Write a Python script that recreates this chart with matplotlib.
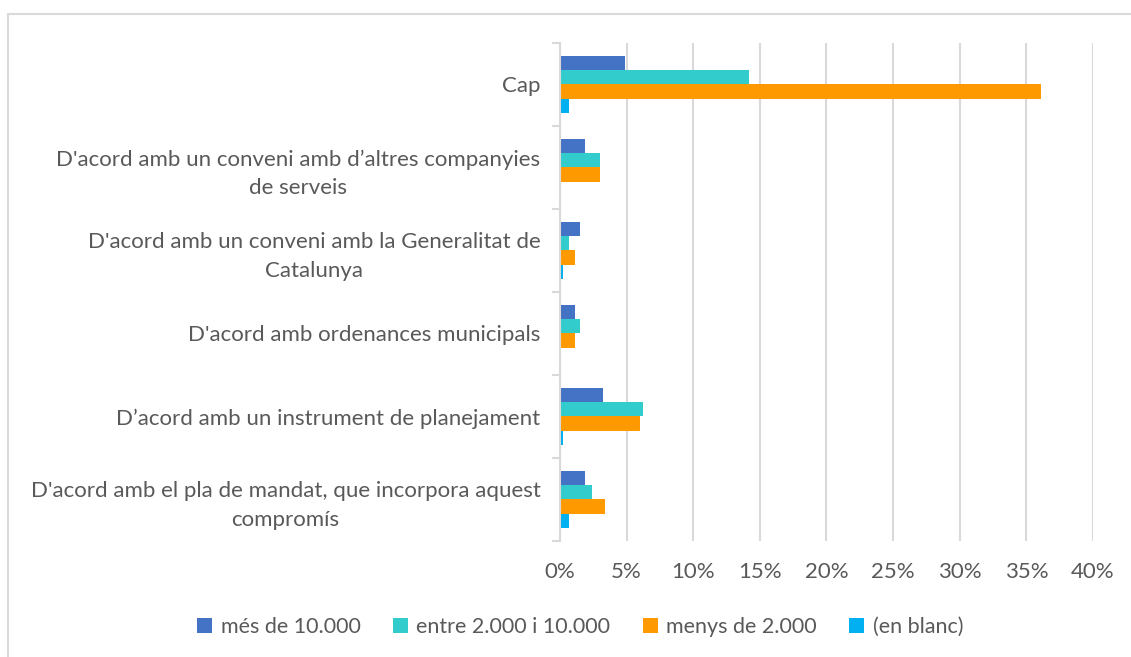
import numpy as np
import matplotlib.pyplot as plt
from matplotlib.patches import Rectangle

# categories top to bottom
categories = [
    'Cap',
    "D'acord amb un conveni amb d\u2019altres companyies\nde serveis",
    "D'acord amb un conveni amb la Generalitat de\nCatalunya",
    "D'acord amb ordenances municipals",
    "D\u2019acord amb un instrument de planejament",
    "D'acord amb el pla de mandat, que incorpora aquest\ncompromís",
]
series_names = ['més de 10.000', 'entre 2.000 i 10.000', 'menys de 2.000', '(en blanc)']
mes_10000 = [4.9, 1.9, 1.5, 1.1, 3.2, 1.9]
entre_2000_10000 = [14.2, 3.0, 0.66, 1.5, 6.2, 2.4]
menys_2000 = [36.1, 3.0, 1.1, 1.1, 6.0, 3.4]
en_blanc = [0.66, 0.0, 0.22, 0.0, 0.22, 0.66]
colors = ['#4472C4', '#33CCCC', '#FF9900', '#00B0F0']

plt.rcParams['font.family'] = ['Lato', 'DejaVu Sans']
txt = '#595959'
grid = '#d9d9d9'
fs = 16

fig = plt.figure(figsize=(11.31, 6.57), dpi=100)
ax = fig.add_axes([0.4951, 0.1766, 0.4713, 0.758])

# outer chart border
fig.patches.append(Rectangle((8 / 1131, -0.1), 1.2, (657 - 14) / 657 + 0.1,
                             transform=fig.transFigure, fill=False,
                             edgecolor=grid, linewidth=1.5))

n = len(categories)
y = np.arange(n)[::-1].astype(float)  # Cap at the top
h = 0.17
all_series = [mes_10000, entre_2000_10000, menys_2000, en_blanc]
for i, (vals, name, c) in enumerate(zip(all_series, series_names, colors)):
    offs = (1.5 - i) * h
    ax.barh(y + offs, np.array(vals) / 100, height=h, color=c, label=name,
            linewidth=0)

ax.set_xlim(0, 0.40)
ax.set_ylim(-0.5, n - 0.5)
ax.set_xticks(np.arange(0, 0.401, 0.05))
ax.set_xticklabels([f'{int(round(v * 100))}%' for v in np.arange(0, 0.401, 0.05)])
ax.grid(axis='x', color=grid, linewidth=1.5)
ax.set_axisbelow(True)

ax.set_yticks(y)
ax.set_yticklabels(categories, multialignment='center', linespacing=1.55)
ax.set_yticks(np.arange(-0.5, n), minor=True)
ax.tick_params(axis='y', which='major', length=0, pad=14, labelsize=fs, labelcolor=txt)
ax.tick_params(axis='y', which='minor', length=6, color=grid, width=1.5)
ax.tick_params(axis='x', length=0, pad=15, labelsize=fs, labelcolor=txt)

for s in ['top', 'right', 'bottom']:
    ax.spines[s].set_visible(False)
ax.spines['left'].set_color(grid)
ax.spines['left'].set_linewidth(1.5)

fig.legend(loc='center', bbox_to_anchor=(0.513, 0.046), ncol=4, frameon=False,
           fontsize=15.5, labelcolor=txt, handlelength=0.7, handleheight=0.7,
           handletextpad=0.4, columnspacing=1.5)

fig.savefig('out.png', dpi=100)
